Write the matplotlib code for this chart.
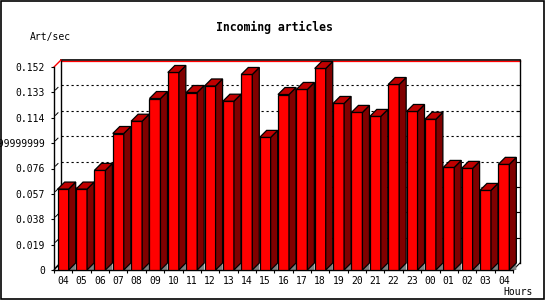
import matplotlib
matplotlib.use("Agg")
import matplotlib.pyplot as plt
from matplotlib.patches import Polygon, Rectangle
from matplotlib.lines import Line2D

hours = ["04", "05", "06", "07", "08", "09", "10", "11", "12", "13", "14", "15", "16",
         "17", "18", "19", "20", "21", "22", "23", "00", "01", "02", "03", "04"]
values = [0.0606, 0.0606, 0.0746, 0.1022, 0.1114, 0.1284, 0.1479, 0.1329, 0.1378,
          0.1264, 0.1464, 0.0993, 0.1314, 0.1352, 0.1509, 0.1247, 0.1180, 0.1150,
          0.1389, 0.1187, 0.1129, 0.0768, 0.0761, 0.0596, 0.0791]
ytick_vals = [0, 0.019, 0.038, 0.057, 0.076, 0.095, 0.114, 0.133, 0.152]
ytick_labels = ["0", "0.019", "0.038", "0.057", "0.076", "0.0949999999999999",
                "0.114", "0.133", "0.152"]

W, H, DPI = 550, 300, 100
fig = plt.figure(figsize=(W / DPI, H / DPI), dpi=DPI)
mono = "DejaVu Sans Mono"

# axes = front plane of the 3D chart
L, R, T, B = 54, 513, 67, 270
ax = fig.add_axes([L / W, (H - B) / H, (R - L) / W, (B - T) / H])
n = len(values)
ax.set_xlim(-0.5, n - 0.5)
ymax = ytick_vals[-1]
ax.set_ylim(0, ymax)

DEPTH = 7  # px
dx = DEPTH / ((R - L) / n)
dy = DEPTH / ((B - T) / ymax)
px_x = 1 / ((R - L) / n)
px_y = ymax / (B - T)

for s in ["top", "right"]:
    ax.spines[s].set_visible(False)
for s in ["left", "bottom"]:
    ax.spines[s].set_linewidth(1.0)
    ax.spines[s].set_color("black")
ax.patch.set_visible(False)

ax.set_yticks(ytick_vals)
ax.set_yticklabels(ytick_labels, fontfamily=mono, fontsize=7)
ax.tick_params(axis="y", direction="out", length=2.2, width=0.8, pad=4.3)

x = list(range(n))
ax.set_xticks(x)
ax.set_xticklabels(hours, fontfamily=mono, fontsize=7)
ax.tick_params(axis="x", which="major", length=0, pad=4)
ax.set_xticks([i - 0.5 for i in range(n + 1)], minor=True)
ax.tick_params(axis="x", which="minor", direction="out", length=2.5, width=0.8)

kw = dict(clip_on=False)
# back plane frame
bx0, bx1 = -0.5 + dx, n - 0.5 + dx
ax.add_line(Line2D([bx0, bx1], [ymax + dy, ymax + dy], color="black", lw=1.2, zorder=0.6, **kw))
ax.add_line(Line2D([bx0, bx1], [ymax + dy - 1.2 * px_y, ymax + dy - 1.2 * px_y], color="red", lw=0.9, zorder=0.6, **kw))
ax.add_line(Line2D([bx1, bx1], [dy, ymax + dy], color="black", lw=1.0, zorder=0.6, **kw))
ax.add_line(Line2D([bx0, bx0], [dy, ymax + dy], color="black", lw=1.0, zorder=0.6, **kw))
ax.add_line(Line2D([-0.5, bx0], [ymax, ymax + dy], color="red", lw=1.0, zorder=0.6, **kw))
ax.add_line(Line2D([n - 0.5, bx1], [0, dy], color="black", lw=0.8, zorder=0.6, **kw))
ax.add_line(Line2D([-0.5, bx0], [0, dy], color="black", lw=0.8, zorder=0.6, **kw))

# dotted grid lines on back plane + ticks
for v in ytick_vals[1:-1]:
    ax.add_line(Line2D([bx0, bx1], [v + dy, v + dy], color="black", lw=0.8,
                       dashes=(2, 2.5), zorder=0.5, **kw))
    ax.add_line(Line2D([bx1 - 3 * px_x, bx1], [v + dy, v + dy], color="black", lw=0.8, zorder=0.55, **kw))
for v in ytick_vals[:-1]:
    ax.add_line(Line2D([-0.5 + 1.5 * px_x, -0.5 + 4 * px_x], [v + 2.5 * px_y, v + 5 * px_y],
                       color="black", lw=0.7, zorder=0.55, **kw))

# bars
hw = 0.3
face_c, side_c, top_c, floor_c = "#ff0000", "#800000", "#c00000", "#808080"
ax.bar(x, values, width=2 * hw, color=face_c, edgecolor="black", linewidth=0.9, zorder=3)
for i, v in enumerate(values):
    xr, xl = i + hw, i - hw
    ax.add_patch(Polygon([(xr, 0), (xr + dx, dy), (xr + dx, 0)], closed=True,
                         facecolor=floor_c, edgecolor="none", zorder=2.5, **kw))
    ax.add_patch(Polygon([(xr, v), (xr + dx, v + dy), (xr + dx, dy), (xr, 0)], closed=True,
                         facecolor=side_c, edgecolor="black", linewidth=0.9, zorder=3.1, **kw))
    ax.add_patch(Polygon([(xl, v), (xr, v), (xr + dx, v + dy), (xl + dx, v + dy)], closed=True,
                         facecolor=top_c, edgecolor="black", linewidth=0.9, zorder=3.2, **kw))

# texts
fig.text(274 / W, 1 - 27 / H, "Incoming articles", ha="center", va="center",
         fontfamily=mono, fontweight="bold", fontsize=8.3)
fig.text(30 / W, 1 - 37 / H, "Art/sec", ha="left", va="center", fontfamily=mono, fontsize=7)
fig.text(533 / W, 1 - 292 / H, "Hours", ha="right", va="center", fontfamily=mono, fontsize=7)

# outer frame
fig.patches.append(Rectangle((0.8 / W, 1.2 / H), 543.5 / W, 297.5 / H, transform=fig.transFigure,
                             fill=False, edgecolor="black", linewidth=1.2))

fig.savefig("out.png", dpi=DPI)
